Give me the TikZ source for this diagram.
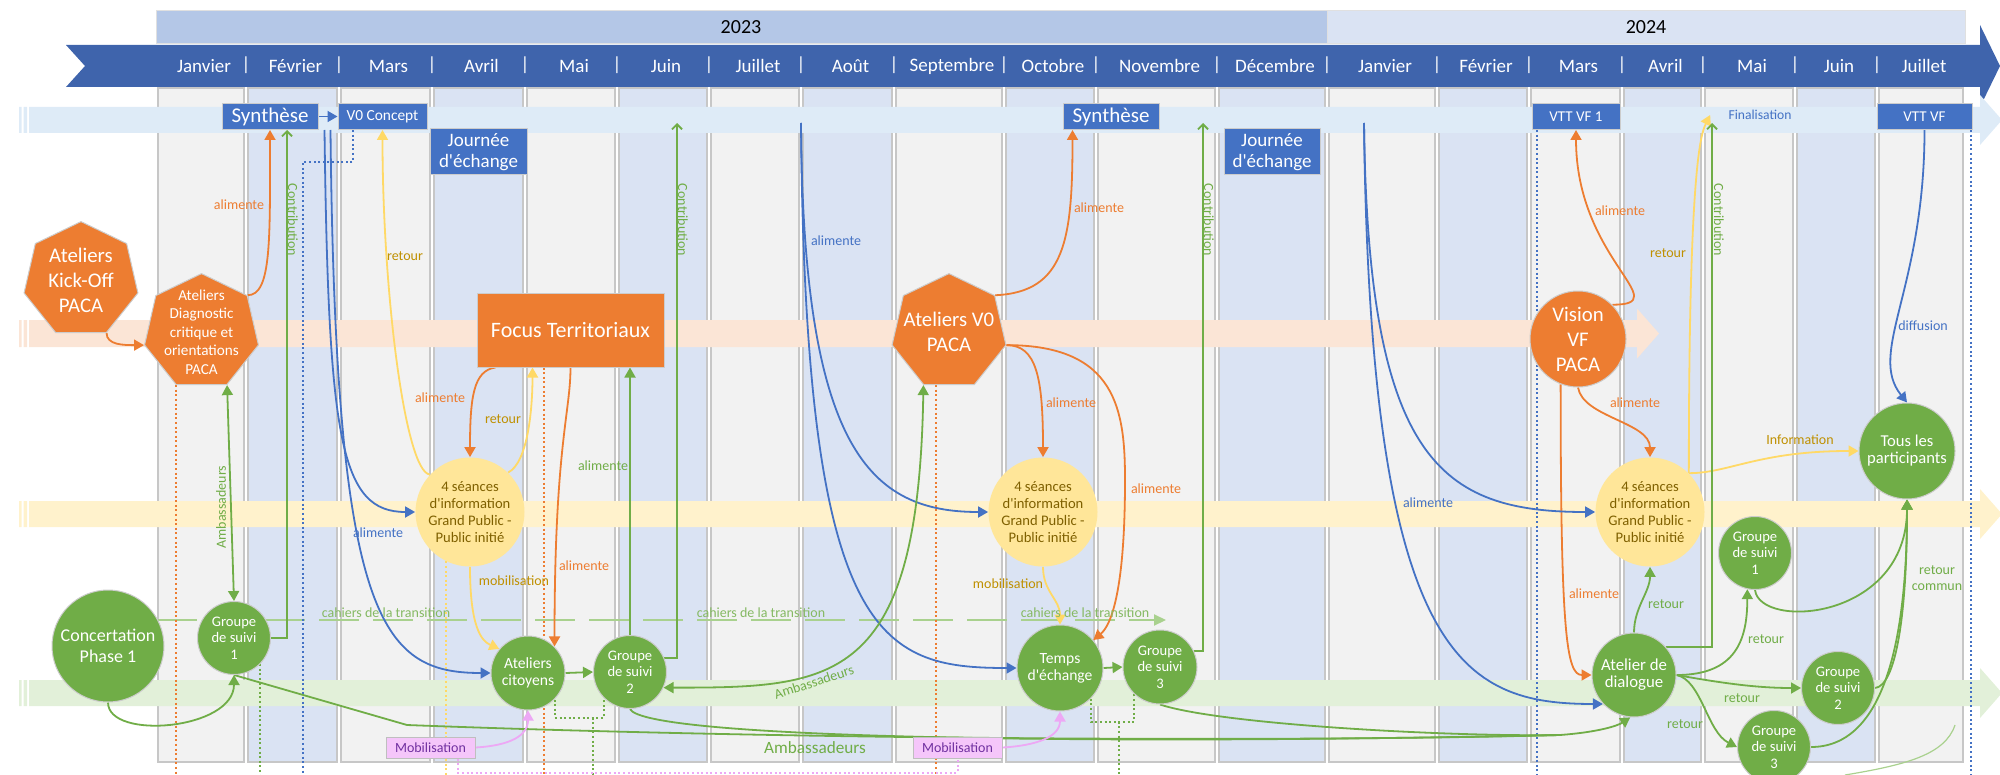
\documentclass[tikz,border=0pt]{standalone}
\usepackage{fontspec}
\setmainfont{Carlito}
\usepackage{tikz}
\usetikzlibrary{arrows.meta,shapes.geometric,calc}

\newcommand{\fsz}[2]{\fontsize{#1}{#2}\selectfont}
\newcommand{\apo}{\textquotesingle}

\definecolor{banner}{HTML}{3F64AC}
\definecolor{yrA}{HTML}{B4C7E7}
\definecolor{yrB}{HTML}{DAE3F3}
\definecolor{colg}{HTML}{F2F2F2}
\definecolor{colb}{HTML}{DAE3F3}
\definecolor{bandblue}{HTML}{DEEBF7}
\definecolor{bandorange}{HTML}{FBE5D6}
\definecolor{bandyellow}{HTML}{FFF2CC}
\definecolor{bandgreen}{HTML}{E2F0D9}
\definecolor{obl}{HTML}{4472C4}
\definecolor{oor}{HTML}{ED7D31}
\definecolor{ogr}{HTML}{70AD47}
\definecolor{oye}{HTML}{FFD966}
\definecolor{infofill}{HTML}{FFE699}
\definecolor{infotext}{HTML}{7F6000}
\definecolor{goldtxt}{HTML}{BF9000}
\definecolor{lgreen}{HTML}{A9D18E}
\definecolor{mobfill}{HTML}{F5C6FA}
\definecolor{mobtext}{HTML}{7030A0}
\definecolor{pinkline}{HTML}{EDA8F5}

\pgfdeclarelayer{back}
\pgfdeclarelayer{links}
\pgfsetlayers{back,links,main}

\begin{document}
\begin{tikzpicture}[x=0.5pt,y=-0.5pt,>={Triangle[length=5pt,width=5.5pt]},
  every node/.style={inner sep=0pt},
  month/.style={text=white,font=\fsz{9.5}{11}},
  bluebox/.style={rectangle,fill=obl,draw=black!20,line width=0.5pt,text=white,align=center,minimum height=13pt},
  hepta/.style={regular polygon,regular polygon sides=7,minimum size=58.4pt,fill=oor,draw=black!20,line width=0.5pt},
  hepttext/.style={text=white,align=center},
  infocircle/.style={circle,minimum size=54.5pt,fill=infofill,text=infotext,align=center,font=\fsz{7.3}{8.5}},
  greencircle/.style={circle,minimum size=36.5pt,fill=ogr,draw=black!20,line width=0.5pt,text=white,align=center,font=\fsz{7.3}{8.3}},
  mobbox/.style={rectangle,minimum width=44.5pt,minimum height=10.5pt,fill=mobfill,draw=black!25,line width=0.5pt,text=mobtext,font=\fsz{7}{8}},
  lbl/.style={font=\fsz{7}{8.2},align=center},
  conn/.style={line width=0.9pt},
  dotline/.style={line width=1pt,dash pattern=on 1pt off 1.3pt},
  opentip/.style={-{Straight Barb[length=2.5pt,width=5pt]}}]

\useasboundingbox (0,0) rectangle (2000,775);
\coordinate (bot) at (0,775);

\begin{pgfonlayer}{back}
  % years and months
  \path[fill=yrA,draw=black!12] (156,10) rectangle (1327,43);
  \path[fill=yrB,draw=black!12] (1327,10) rectangle (1965,43);
  \node[font=\fsz{10}{12}] (y23) at (741,27) {2023};
  \node[font=\fsz{10}{12}] (y24) at (1646,27) {2024};
  \fill[banner] (66,45) -- (1980,45) -- (1980,25) -- (2000,66) -- (1980,107) -- (1980,87) -- (66,87) -- (85,66) -- cycle;
  \foreach \a/\b/\m/\c [count=\i] in {156/246/Janvier/colg, 246/339/Février/colb, 339/432/Mars/colg,
      432/525/Avril/colb, 525/617/Mai/colg, 617/709/Juin/colb, 709/801/Juillet/colg, 801/894/Août/colb,
      894/1004/Septembre/colg, 1004/1096/Octobre/colb, 1096/1217/Novembre/colg, 1217/1327/Décembre/colb,
      1327/1437/Janvier/colg, 1437/1529/Février/colb, 1529/1622/Mars/colg, 1622/1703/Avril/colb,
      1703/1795/Mai/colg, 1795/1877/Juin/colb, 1877/1965/Juillet/colg}{
    \path[fill=\c,draw=black!22,line width=1pt] (\a+2,88) rectangle (\b-2,762);
    \node[month] (m\i) at ({(\a+\b)/2+3},66) {\m};
  }
  \foreach \x [count=\i] in {246,339,432,525,617,709,801,894,1004,1096,1217,1327,1437,1529,1622,1703,1795,1877}
    \node[month] (s\i) at (\x,65) {|};

  % lanes
  \foreach \ya/\yb/\xe/\c in {107/133/1980/bandblue, 320/347/1637/bandorange, 501/527/1980/bandyellow, 680/706/1980/bandgreen}{
    \pgfmathsetmacro\ym{(\ya+\yb)/2}
    \fill[\c] (29,\ya) rectangle (\xe,\yb) (\xe,\ym-25) -- (\xe+22,\ym) -- (\xe,\ym+25) -- cycle;
    \fill[\c] (19,\ya) rectangle (21.5,\yb) (23.5,\ya) rectangle (27,\yb);
  }
\end{pgfonlayer}

% top lane
\node[bluebox,minimum width=48pt,font=\fsz{10.5}{12}] (synth1) at (270,116.5) {Synthèse};
\node[bluebox,minimum width=44.5pt,font=\fsz{7.7}{9}] (v0c) at (382.5,116.5) {V0 Concept};
\node[bluebox,minimum width=48.5pt,minimum height=23pt,font=\fsz{9.5}{10.8}] (jour1) at (478.5,152) {Journée\\d\apo échange};
\node[bluebox,minimum width=48pt,font=\fsz{10.5}{12}] (synth2) at (1111,116.5) {Synthèse};
\node[bluebox,minimum width=48pt,minimum height=23pt,font=\fsz{9.5}{10.8}] (jour2) at (1272,152) {Journée\\d\apo échange};
\node[bluebox,minimum width=44pt,font=\fsz{7.5}{9}] (vttvf1) at (1576,116.5) {VTT VF 1};
\node[obl,font=\fsz{6.8}{8},inner xsep=9pt] (final) at (1760,115) {Finalisation};
\node[bluebox,minimum width=47.5pt,font=\fsz{7.5}{9}] (vttvf) at (1924.5,116.5) {VTT VF};

% orange lane
\node[hepta,label={[hepttext,font=\fsz{10.4}{12.5}]center:Ateliers\\Kick-Off\\PACA}] (kick) at (81,280) {};
\node[hepta,label={[hepttext,font=\fsz{7.6}{9.2}]center:Ateliers\\Diagnostic\\critique et\\orientations\\PACA}] (diag) at (201.5,332) {};
\node[rectangle,fill=oor,draw=black!20,line width=0.5pt,minimum width=93.5pt,minimum height=37pt,text=white,font=\fsz{11}{13}] (focus) at (570.5,330) {Focus Territoriaux};
\node[hepta,label={[hepttext,font=\fsz{10.4}{12.5}]center:Ateliers V0\\PACA}] (v0) at (949,332) {};
\node[circle,fill=oor,draw=black!20,line width=0.5pt,minimum size=48pt,text=white,align=center,font=\fsz{10.4}{12.5}] (vision) at (1578,339) {Vision\\VF\\PACA};

% yellow lane
\node[infocircle] (fs1) at (470,512) {4 séances\\d\apo information\\Grand Public -\\Public initié};
\node[infocircle] (fs2) at (1043,512) {4 séances\\d\apo information\\Grand Public -\\Public initié};
\node[infocircle] (fs3) at (1650,512) {4 séances\\d\apo information\\Grand Public -\\Public initié};

% green lane
\node[greencircle,minimum size=56pt,font=\fsz{9}{10.5}] (conc) at (108,646) {Concertation\\Phase 1};
\node[greencircle] (gs1) at (234,638) {Groupe\\de suivi\\1};
\node[greencircle,minimum size=37pt,font=\fsz{7.8}{8.7}] (cit) at (528,673) {Ateliers\\citoyens};
\node[greencircle] (gs2) at (630,672) {Groupe\\de suivi\\2};
\node[greencircle,minimum size=43pt,font=\fsz{7.8}{8.5}] (temps) at (1060,668) {Temps\\d\apo échange};
\node[greencircle,minimum size=37pt] (gs3) at (1160,667) {Groupe\\de suivi\\3};
\node[greencircle,minimum size=42pt,font=\fsz{8.4}{8.5}] (dial) at (1634,675) {Atelier de\\dialogue};
\node[greencircle] (gsr1) at (1755,553) {Groupe\\de suivi\\1};
\node[greencircle] (gsr2) at (1838,688) {Groupe\\de suivi\\2};
\node[greencircle] (gsr3) at (1774,747) {Groupe\\de suivi\\3};
\node[greencircle,minimum size=48pt,font=\fsz{8.3}{8.5}] (tous) at (1907,451) {Tous les\\participants};
\node[mobbox] (mob1) at (430.5,747.5) {Mobilisation};
\node[mobbox] (mob2) at (957.5,747.5) {Mobilisation};

% free ends
\coordinate (cahA) at (157,620);
\coordinate (cahB) at (1166,620);
\coordinate (bsA) at ($(synth1.south east)+(6,0)$);
\coordinate (bsB) at ($(synth1.south east)+(12,0)$);
\coordinate (bmid) at (801,123);
\coordinate (bjan) at (1364,123);
\coordinate (ctop2) at (677,123);
\coordinate (ctop3) at (1203,123);
\coordinate (ctop4) at (1712,123);
\coordinate (bdot) at (303,775);
\coordinate (ambj) at (1560,735);
\coordinate (lgA) at (1955,725);
\coordinate (lgB) at (1845,775);
\coordinate (fdot) at ($(focus.south)+(-26.5,0)$);
\coordinate (vdot) at ($(v0.corner 4)!0.25!(v0.corner 5)$);
\coordinate (vd1) at ($(vttvf1.south west)+(5,0)$);
\coordinate (vd2) at ($(vttvf.south east)+(-2,0)$);
\coordinate (gd1) at ($(cit.315)+(38,18)$);
\coordinate (gd2) at ($(temps.315)+(28,23)$);

\begin{pgfonlayer}{links}
  \draw[lgreen,line width=1pt,dash pattern=on 20pt off 7pt,-{Triangle[length=6pt,width=5.5pt]}] (cahA) -- (cahB);

  % dotted guides
  \draw[oor,dotline] (diag.corner 4) -- (diag.corner 4 |- bot);
  \draw[oor,dotline] (fdot) -- (fdot |- bot);
  \draw[oor,dotline] (vdot) -- (vdot |- bot);
  \draw[obl,dotline] ($(v0c.south west)+(15,0)$) -- ++(0,32) -| (bdot);
  \draw[obl,dotline] (vd1) -- (vd1 |- bot);
  \draw[obl,dotline] (vd2) -- (vd2 |- bot);
  \draw[oye,dotline] (fs1.244) -- (fs1.244 |- bot);
  \draw[ogr,dotline] (gs1.315) -- (gs1.315 |- bot);
  \draw[ogr,dotline] (cit.315) -- ++(0,18) -| (gs2.225);
  \draw[ogr,dotline] (gd1) -- (gd1 |- bot);
  \draw[ogr,dotline] (temps.315) -- ++(0,23) -| (gs3.227);
  \draw[ogr,dotline] (gd2) -- (gd2 |- bot);
  \draw[pinkline,dotline] ($(mob1.south east)+(-18,0)$) -- ++(0,14) -| (mob2.south);

  % orange
  \draw[oor,conn,->] (kick.corner 5) .. controls +(0,12) and +(-20,0) .. (diag.corner 3);
  \draw[oor,conn,->] (diag.corner 7) .. controls +(24,0) and +(0,110) .. (synth1.south);
  \draw[oor,conn,->] ($(focus.south west)+(19,0)$) .. controls +(-22,3) and +(0,-60) .. (fs1.north);
  \draw[oor,conn,->] (focus.south) .. controls +(0,45) and +(0,-200) .. (cit.45);
  \draw[oor,conn,->] (v0.corner 7) .. controls +(70,-3) and +(0,110) .. ($(synth2.south west)+(10,0)$);
  \draw[oor,conn,->] (v0.corner 6) .. controls +(30,0) and +(0,-80) .. (fs2.north);
  \draw[oor,conn,->] (v0.corner 6) .. controls +(110,0) and +(0,-70) .. (1125,480) .. controls +(0,110) and +(18,-15) .. (temps.40);
  \draw[oor,conn,->] (vision.45) .. controls +(65,0) and +(0,130) .. (vttvf1.south);
  \draw[oor,conn,->] (vision.south) .. controls +(5,30) and +(0,-35) .. (fs3.north);
  \draw[oor,conn,->] (vision.249) .. controls +(0,250) and +(-25,0) .. (dial.west);

  % blue
  \draw[obl,conn,->] (synth1.east) -- (v0c.west);
  \draw[obl,conn,->] (bsA) .. controls +(4,310) and +(-75,0) .. (fs1.west);
  \draw[obl,conn,->] (bsB) .. controls +(5,490) and +(-110,0) .. (cit.west);
  \draw[obl,conn,->] (bmid) .. controls +(2,327) and +(-118,0) .. (fs2.west);
  \draw[obl,conn,->] (bmid) .. controls +(4,517) and +(-137,0) .. (temps.west);
  \draw[obl,conn,->] (bjan) .. controls +(4,337) and +(-155,0) .. (fs3.west);
  \draw[obl,conn,->] (bjan) .. controls +(6,537) and +(-140,0) .. (dial.223);
  \draw[obl,conn,->] (vttvf.south) .. controls +(0,160) and +(-40,-50) .. (tous.north);

  % yellow
  \draw[oye,conn,->] (fs1.137) .. controls +(-25,-3) and +(0,160) .. (v0c.south);
  \draw[oye,conn,->] (fs1.46) .. controls +(20,-10) and +(0,40) .. ($(focus.south)+(-38,0)$);
  \draw[oye,conn,->] (fs1.south) .. controls +(0,60) and +(-18,-8) .. (cit.140);
  \draw[oye,conn,->] (fs2.south) .. controls +(0,25) and +(0,-25) .. (temps.north);
  \draw[oye,conn,->] (fs3.45) .. controls +(0,-300) and +(-10,20) .. (final.west);
  \draw[oye,conn,->] (fs3.45) .. controls +(40,0) and +(-100,0) .. (tous.west);

  % green
  \draw[ogr,conn,->] (conc.south) .. controls +(0,38) and +(0,55) .. (gs1.south);
  \draw[ogr,conn,<->] (diag.corner 5) -- (gs1.north);
  \draw[ogr,conn,opentip] (gs1.east) -| ($(synth1.south)+(17,0)$);
  \draw[ogr,conn,->] (cit.east) -- (gs2.west);
  \draw[ogr,conn,->] (gs2.north) -- (gs2.north |- focus.south);
  \draw[ogr,conn,opentip] (gs2.22) -| (ctop2);
  \draw[ogr,conn,<->] (v0.corner 4) .. controls +(-5,300) and +(170,0) .. (gs2.335);
  \draw[ogr,conn,->] (temps.east) -- (gs3.west);
  \draw[ogr,conn,opentip] (gs3.25) -| (ctop3);
  \draw[ogr,conn,->] (dial.north) .. controls +(0,-25) and +(0,25) .. (fs3.south);
  \draw[ogr,conn,opentip] (dial.41) -| (ctop4);
  \draw[ogr,conn,->] (dial.east) .. controls +(60,0) and +(0,50) .. (gsr1.258);
  \draw[ogr,conn,->] (dial.east) .. controls +(45,8) and +(-45,0) .. (gsr2.west);
  \draw[ogr,conn,->] (dial.east) .. controls +(25,5) and +(-30,-15) .. (gsr3.west);
  \draw[ogr,conn,->] (gsr1.south) .. controls +(5,40) and +(0,121) .. (tous.south);
  \draw[ogr,conn,->] (gsr2.east) .. controls +(20,-2) and +(0,120) .. (tous.south);
  \draw[ogr,conn,->] (gsr3.east) .. controls +(70,0) and +(0,150) .. (tous.south);
  \draw[ogr,conn] (gs1.south) -- (407,725) .. controls (800,740) and (1300,742) .. (ambj);
  \draw[ogr,conn] (gs2.south) .. controls +(15,30) and (1100,745) .. (ambj);
  \draw[ogr,conn] (gs3.south) .. controls +(60,20) and (1450,737) .. (ambj);
  \draw[ogr,conn,->] (ambj) .. controls +(40,-3) and +(-12,8) .. (dial.265);
  \draw[lgreen,line width=0.6pt] (lgA) .. controls +(-10,30) and +(60,-10) .. (lgB);

  % pink
  \draw[pinkline,conn,->] (mob1.east) .. controls +(35,-2) and +(0,25) .. (cit.south);
  \draw[pinkline,conn,->] (mob2.east) .. controls +(35,-2) and +(0,25) .. (temps.south);
\end{pgfonlayer}

% labels
\node[lbl,ogr!85!white] (c1) at (386,613) {cahiers de la transition};
\node[lbl,ogr!85!white] (c2) at (761,613) {cahiers de la transition};
\node[lbl,ogr!85!white] (c3) at (1085,613) {cahiers de la transition};
\node[lbl,oor] (a1) at (239,205) {alimente};
\node[lbl,oor] (a2) at (440,398) {alimente};
\node[lbl,oor] (a3) at (584,566) {alimente};
\node[lbl,oor] (a4) at (1099,208) {alimente};
\node[lbl,oor] (a5) at (1071,403) {alimente};
\node[lbl,oor] (a6) at (1156,489) {alimente};
\node[lbl,oor] (a7) at (1620,211) {alimente};
\node[lbl,oor] (a8) at (1635,403) {alimente};
\node[lbl,oor] (a9) at (1594,594) {alimente};
\node[lbl,obl] (b1) at (378,533) {alimente};
\node[lbl,obl] (b2) at (836,241) {alimente};
\node[lbl,obl] (b3) at (1428,503) {alimente};
\node[lbl,obl] (b4) at (1923,326) {diffusion};
\node[lbl,ogr] (g1) at (603,466) {alimente};
\node[lbl,ogr,rotate=-90] (k1) at (293,220) {Contribution};
\node[lbl,ogr,rotate=-90] (k2) at (683,220) {Contribution};
\node[lbl,ogr,rotate=-90] (k3) at (1209,220) {Contribution};
\node[lbl,ogr,rotate=-90] (k4) at (1719,220) {Contribution};
\node[lbl,ogr,rotate=90] (e1) at (221,507) {Ambassadeurs};
\node[lbl,ogr,rotate=18] (e2) at (814,682) {Ambassadeurs};
\node[ogr,font=\fsz{8.6}{10}] (e3) at (815,748) {Ambassadeurs};
\node[lbl,goldtxt] (r1) at (405,256) {retour};
\node[lbl,goldtxt] (r2) at (503,419) {retour};
\node[lbl,goldtxt] (r3) at (1668,253) {retour};
\node[lbl,goldtxt] (n1) at (514,581) {mobilisation};
\node[lbl,goldtxt] (n2) at (1008,584) {mobilisation};
\node[lbl,goldtxt] (n3) at (1800,440) {Information};
\node[lbl,ogr] (r4) at (1666,604) {retour};
\node[lbl,ogr] (r5) at (1766,639) {retour};
\node[lbl,ogr] (r6) at (1742,698) {retour};
\node[lbl,ogr] (r7) at (1685,724) {retour};
\node[lbl,ogr] (r8) at (1937,578) {retour\\commun};
\end{tikzpicture}
\end{document}
